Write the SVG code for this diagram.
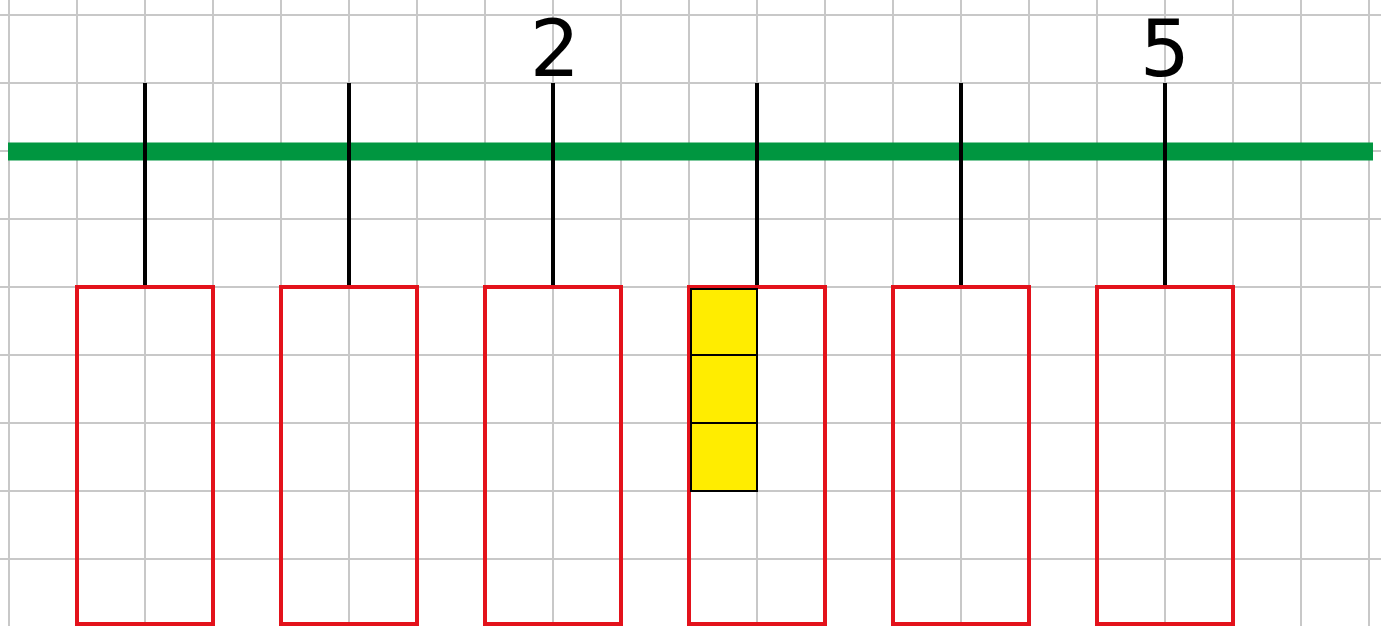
<svg xmlns="http://www.w3.org/2000/svg" width="1381" height="626" viewBox="0 0 1381 626">
<style>
.g{stroke:#c8c8c8;stroke-width:2}
.box{fill:none;stroke:#e3121b;stroke-width:4}
.hang{stroke:#000;stroke-width:4}
.cell{fill:#ffed00;stroke:#000;stroke-width:2}
.lbl{font-family:"DejaVu Sans",sans-serif;font-size:79px;fill:#000;text-anchor:middle}
</style>
<rect width="1381" height="626" fill="#fff"/>
<g id="grid">
<path class="g" d="M9 0V626M77 0V626M145 0V626M213 0V626M281 0V626M349 0V626M417 0V626M485 0V626M553 0V626M621 0V626M689 0V626M757 0V626M825 0V626M893 0V626M961 0V626M1029 0V626M1097 0V626M1165 0V626M1233 0V626M1301 0V626M1369 0V626"/>
<path class="g" d="M0 15H1381M0 83H1381M0 151H1381M0 219H1381M0 287H1381M0 355H1381M0 423H1381M0 491H1381M0 559H1381"/>
</g>
<g id="rail"><line x1="8" y1="151.5" x2="1373" y2="151.5" stroke="#009640" stroke-width="18"/></g>
<g id="connectors">
<path class="hang" d="M145 83V287M349 83V287M553 83V287M757 83V287M961 83V287M1165 83V287"/>
</g>
<g id="box1"><rect class="box" x="77" y="287" width="136" height="337"/></g>
<g id="box2"><rect class="box" x="281" y="287" width="136" height="337"/></g>
<g id="box3"><rect class="box" x="485" y="287" width="136" height="337"/></g>
<g id="box4"><rect class="box" x="689" y="287" width="136" height="337"/>
<rect class="cell" x="691" y="289" width="66" height="66"/>
<rect class="cell" x="691" y="355" width="66" height="68"/>
<rect class="cell" x="691" y="423" width="66" height="68"/>
</g>
<g id="box5"><rect class="box" x="893" y="287" width="136" height="337"/></g>
<g id="box6"><rect class="box" x="1097" y="287" width="136" height="337"/></g>
<g id="labels">
<text class="lbl" x="555" y="76">2</text>
<text class="lbl" x="1165" y="76">5</text>
</g>
</svg>
